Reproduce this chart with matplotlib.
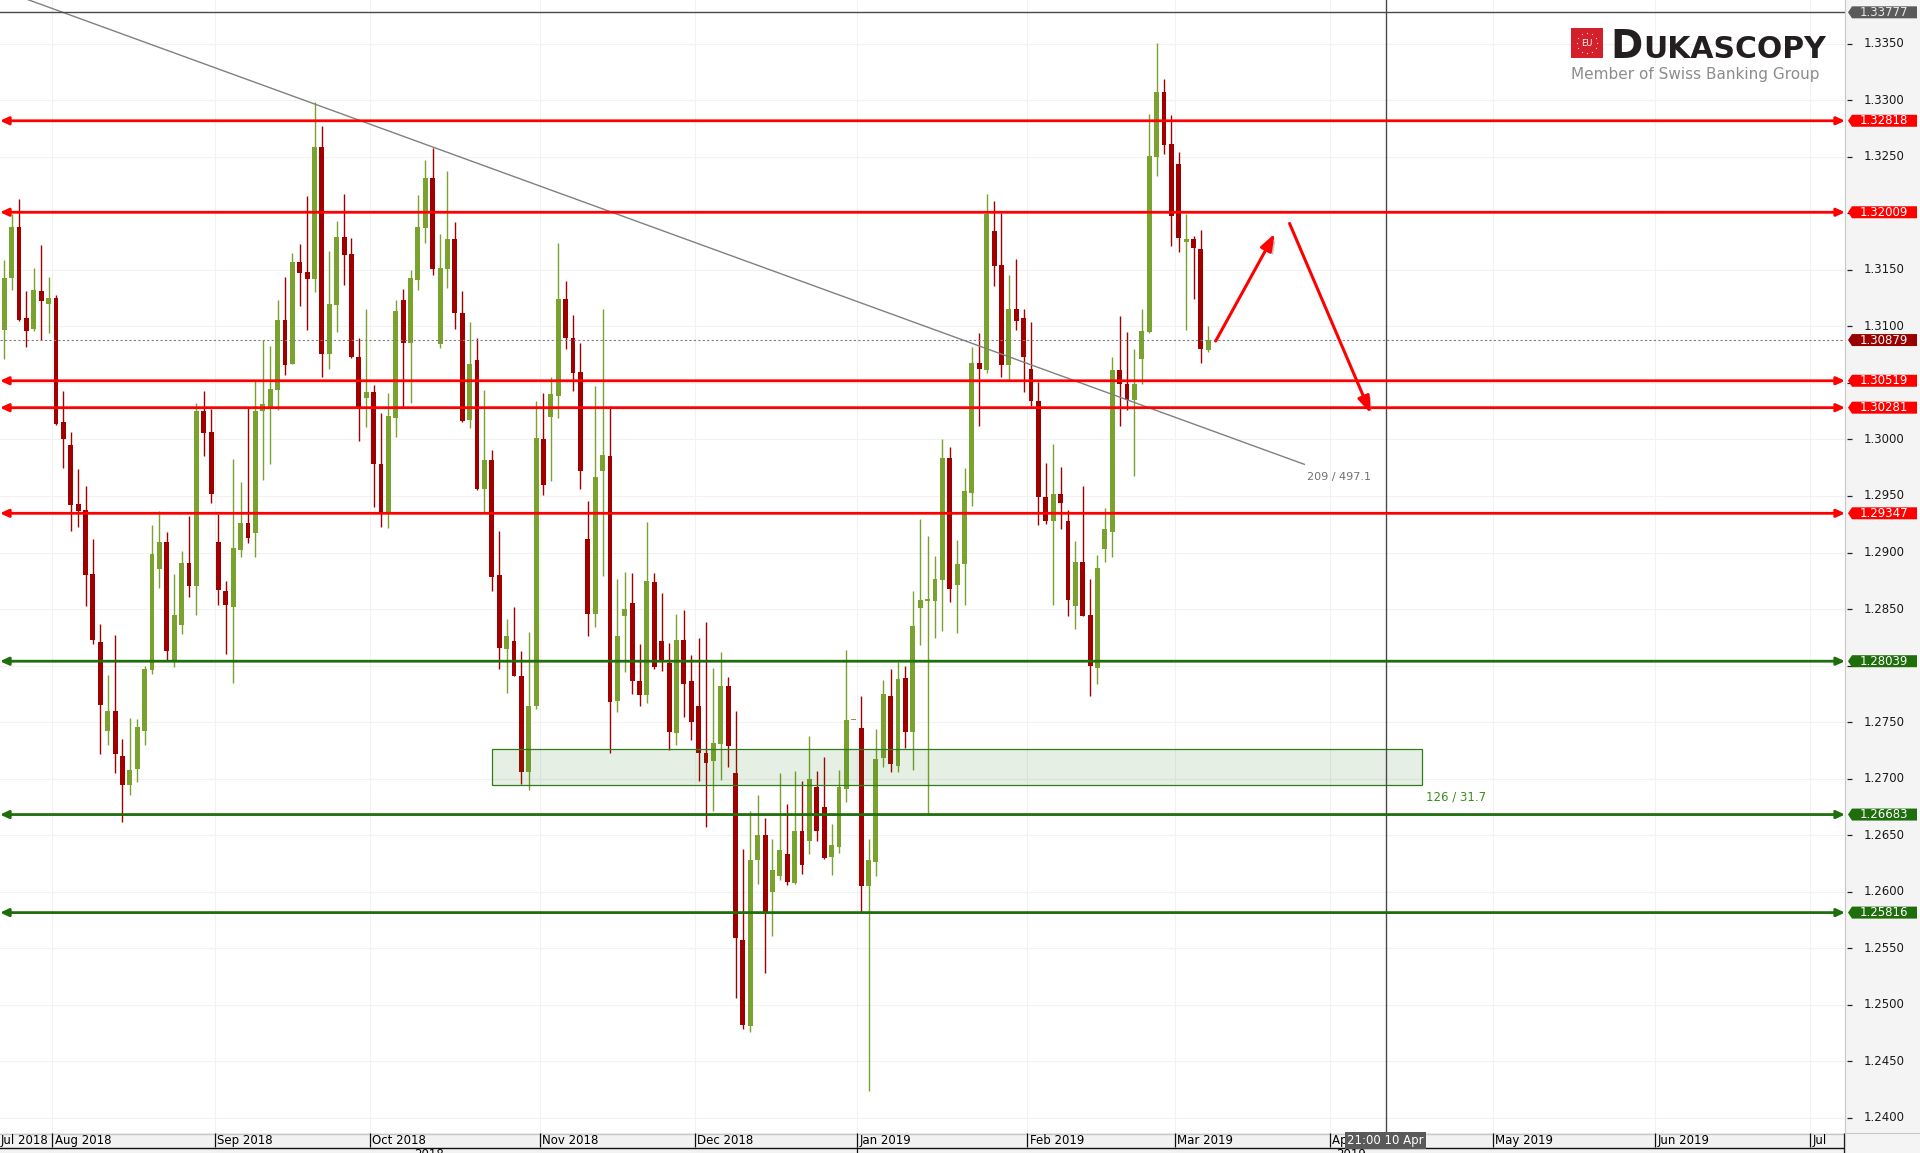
import numpy as np
import pandas as pd
import matplotlib
matplotlib.use('Agg')
import matplotlib.pyplot as plt
from matplotlib.patches import Polygon, Rectangle, FancyArrowPatch
import matplotlib.patheffects as pe

# GBP/USD daily candles, 23 Jul 2018 - 7 Mar 2019 (business days)
dates = pd.bdate_range('2018-07-23', '2019-03-07')

opens = [
    1.3097, 1.3143, 1.3188, 1.3107, 1.3098, 1.3131, 1.3120, 1.3125, 1.3015, 1.2995,
    1.2943, 1.2938, 1.2881, 1.2821, 1.2742, 1.2760, 1.2720, 1.2694, 1.2709, 1.2742,
    1.2796, 1.2885, 1.2909, 1.2804, 1.2836, 1.2891, 1.2870, 1.3025, 1.3007, 1.2909,
    1.2866, 1.2852, 1.2902, 1.2926, 1.2917, 1.3025, 1.3029, 1.3044, 1.3106, 1.3067,
    1.3157, 1.3148, 1.3142, 1.3259, 1.3076, 1.3119, 1.3179, 1.3164, 1.3073, 1.3037,
    1.3042, 1.2978, 1.2936, 1.3019, 1.3123, 1.3085, 1.3141, 1.3187, 1.3231, 1.3084,
    1.3151, 1.3177, 1.3112, 1.3017, 1.3070, 1.2956, 1.2982, 1.2880, 1.2815, 1.2822,
    1.2791, 1.2706, 1.2764, 1.3000, 1.3020, 1.3038, 1.3124, 1.3090, 1.3060, 1.2912,
    1.2846, 1.2972, 1.2985, 1.2769, 1.2844, 1.2855, 1.2786, 1.2774, 1.2874, 1.2822,
    1.2802, 1.2740, 1.2823, 1.2786, 1.2764, 1.2723, 1.2716, 1.2731, 1.2782, 1.2705,
    1.2557, 1.2481, 1.2628, 1.2650, 1.2600, 1.2614, 1.2633, 1.2608, 1.2654, 1.2645,
    1.2693, 1.2675, 1.2631, 1.2640, 1.2691, 1.2752, 1.2745, 1.2605, 1.2626, 1.2718,
    1.2773, 1.2711, 1.2789, 1.2741, 1.2851, 1.2857, 1.2857, 1.2876, 1.2984, 1.2871,
    1.2890, 1.2953, 1.3068, 1.3061, 1.3184, 1.3154, 1.3066, 1.3115, 1.3107, 1.3062,
    1.3034, 1.2949, 1.2928, 1.2952, 1.2928, 1.2853, 1.2892, 1.2845, 1.2798, 1.2903,
    1.2918, 1.3061, 1.3049, 1.3035, 1.3071, 1.3095, 1.3250, 1.3307, 1.3261, 1.3244,
    1.3175, 1.3177, 1.3168, 1.3079]

highs = [
    1.3159, 1.3199, 1.3213, 1.3131, 1.3152, 1.3172, 1.3144, 1.3128, 1.3043, 1.3007,
    1.2974, 1.2959, 1.2912, 1.2837, 1.2792, 1.2827, 1.2735, 1.2754, 1.2753, 1.2800,
    1.2924, 1.2937, 1.2918, 1.2881, 1.2901, 1.2932, 1.3032, 1.3043, 1.3027, 1.2934,
    1.2875, 1.2983, 1.2962, 1.3028, 1.3052, 1.3088, 1.3083, 1.3123, 1.3144, 1.3165,
    1.3173, 1.3215, 1.3298, 1.3277, 1.3167, 1.3193, 1.3217, 1.3178, 1.3090, 1.3115,
    1.3048, 1.3023, 1.3041, 1.3123, 1.3133, 1.3150, 1.3216, 1.3247, 1.3258, 1.3182,
    1.3237, 1.3192, 1.3131, 1.3104, 1.3090, 1.3044, 1.2991, 1.2919, 1.2841, 1.2852,
    1.2813, 1.2830, 1.3034, 1.3041, 1.3055, 1.3174, 1.3140, 1.3110, 1.3085, 1.2946,
    1.3047, 1.3115, 1.3030, 1.2877, 1.2883, 1.2882, 1.2819, 1.2927, 1.2882, 1.2864,
    1.2820, 1.2846, 1.2849, 1.2809, 1.2824, 1.2839, 1.2798, 1.2812, 1.2790, 1.2760,
    1.2638, 1.2671, 1.2686, 1.2665, 1.2647, 1.2705, 1.2678, 1.2707, 1.2698, 1.2738,
    1.2707, 1.2719, 1.2660, 1.2708, 1.2814, 1.2752, 1.2773, 1.2647, 1.2744, 1.2787,
    1.2797, 1.2803, 1.2800, 1.2866, 1.2930, 1.2915, 1.2897, 1.3000, 1.2993, 1.2911,
    1.2975, 1.3082, 1.3094, 1.3217, 1.3211, 1.3200, 1.3145, 1.3160, 1.3115, 1.3104,
    1.3051, 1.2979, 1.2996, 1.2976, 1.2938, 1.2910, 1.2959, 1.2877, 1.2898, 1.2939,
    1.3073, 1.3109, 1.3095, 1.3080, 1.3115, 1.3288, 1.3351, 1.3319, 1.3287, 1.3254,
    1.3199, 1.3180, 1.3185, 1.3100]

lows = [
    1.3071, 1.3132, 1.3105, 1.3082, 1.3096, 1.3088, 1.3094, 1.3013, 1.2975, 1.2919,
    1.2923, 1.2853, 1.2819, 1.2722, 1.2730, 1.2705, 1.2662, 1.2686, 1.2697, 1.2730,
    1.2793, 1.2869, 1.2804, 1.2799, 1.2828, 1.2861, 1.2845, 1.2985, 1.2944, 1.2854,
    1.2810, 1.2785, 1.2896, 1.2908, 1.2896, 1.2964, 1.2978, 1.3026, 1.3057, 1.3067,
    1.3118, 1.3097, 1.3130, 1.3055, 1.3062, 1.3095, 1.3137, 1.3072, 1.2999, 1.3011,
    1.2940, 1.2923, 1.2922, 1.3002, 1.3029, 1.3032, 1.3132, 1.3174, 1.3145, 1.3081,
    1.3134, 1.3098, 1.3015, 1.3010, 1.2955, 1.2936, 1.2866, 1.2797, 1.2776, 1.2791,
    1.2695, 1.2690, 1.2762, 1.2951, 1.2963, 1.3019, 1.3080, 1.3043, 1.2956, 1.2826,
    1.2834, 1.2879, 1.2723, 1.2759, 1.2794, 1.2775, 1.2764, 1.2767, 1.2797, 1.2795,
    1.2725, 1.2730, 1.2755, 1.2734, 1.2698, 1.2657, 1.2671, 1.2699, 1.2710, 1.2506,
    1.2479, 1.2476, 1.2607, 1.2528, 1.2561, 1.2610, 1.2606, 1.2607, 1.2616, 1.2633,
    1.2645, 1.2629, 1.2615, 1.2634, 1.2679, 1.2752, 1.2582, 1.2424, 1.2614, 1.2710,
    1.2706, 1.2706, 1.2727, 1.2708, 1.2818, 1.2669, 1.2824, 1.2831, 1.2856, 1.2829,
    1.2854, 1.2941, 1.3012, 1.3059, 1.3136, 1.3055, 1.3053, 1.3097, 1.3042, 1.3030,
    1.2924, 1.2925, 1.2854, 1.2921, 1.2844, 1.2832, 1.2844, 1.2773, 1.2784, 1.2892,
    1.2896, 1.3012, 1.3026, 1.2968, 1.3049, 1.3094, 1.3233, 1.3252, 1.3171, 1.3166,
    1.3097, 1.3124, 1.3068, 1.3077]

closes = [
    1.3143, 1.3188, 1.3106, 1.3096, 1.3132, 1.3122, 1.3125, 1.3014, 1.3000, 1.2942,
    1.2937, 1.2880, 1.2823, 1.2765, 1.2760, 1.2722, 1.2694, 1.2708, 1.2746, 1.2797,
    1.2899, 1.2909, 1.2813, 1.2845, 1.2891, 1.2870, 1.3025, 1.3006, 1.2952, 1.2867,
    1.2854, 1.2904, 1.2926, 1.2913, 1.3025, 1.3031, 1.3045, 1.3106, 1.3066, 1.3157,
    1.3147, 1.3142, 1.3259, 1.3076, 1.3120, 1.3179, 1.3163, 1.3073, 1.3029, 1.3042,
    1.2978, 1.2935, 1.3021, 1.3114, 1.3085, 1.3143, 1.3188, 1.3231, 1.3151, 1.3152,
    1.3177, 1.3112, 1.3016, 1.3067, 1.2956, 1.2982, 1.2878, 1.2816, 1.2826, 1.2791,
    1.2706, 1.2764, 1.3001, 1.2960, 1.3040, 1.3124, 1.3090, 1.3059, 1.2972, 1.2846,
    1.2967, 1.2986, 1.2768, 1.2826, 1.2850, 1.2786, 1.2774, 1.2875, 1.2799, 1.2805,
    1.2741, 1.2823, 1.2784, 1.2750, 1.2723, 1.2714, 1.2732, 1.2782, 1.2729, 1.2559,
    1.2482, 1.2628, 1.2650, 1.2582, 1.2619, 1.2637, 1.2609, 1.2654, 1.2624, 1.2700,
    1.2654, 1.2630, 1.2641, 1.2693, 1.2752, 1.2752, 1.2605, 1.2628, 1.2717, 1.2775,
    1.2713, 1.2788, 1.2741, 1.2835, 1.2858, 1.2859, 1.2877, 1.2984, 1.2868, 1.2890,
    1.2954, 1.3068, 1.3062, 1.3199, 1.3153, 1.3066, 1.3115, 1.3105, 1.3073, 1.3034,
    1.2949, 1.2928, 1.2952, 1.2944, 1.2858, 1.2892, 1.2844, 1.2800, 1.2886, 1.2921,
    1.3061, 1.3049, 1.3035, 1.3049, 1.3096, 1.3251, 1.3307, 1.3260, 1.3198, 1.3178,
    1.3177, 1.3169, 1.3080, 1.30879]

# horizontal levels
red_levels = [1.32818, 1.32009, 1.30519, 1.30281, 1.29347]
green_levels = [1.28039, 1.26683, 1.25816]
top_level = 1.33777

# falling trend line (209 bars / 497.1 pips)
trend_dates = ['2018-06-06', '2019-03-26']
trend_prices = [1.3475, 1.2978]
trend_label = '209 / 497.1'

# support zone (126 bars / 31.7 pips)
zone_dates = ['2018-10-23', '2019-04-17']
zone_prices = [1.26944, 1.27259]
zone_label = '126 / 31.7'

# forecast arrows
up_dates = ['2019-03-08', '2019-03-20']
up_prices = [1.3087, 1.3182]
down_dates = ['2019-03-22', '2019-04-08']
down_prices = [1.3191, 1.3023]

cursor_date = '2019-04-10'
cursor_label = '21:00 10 Apr'

y_ticks = np.round(np.arange(1.2400, 1.33501, 0.005), 4)

# colours
C_UP = '#79a22e'
C_DN = '#a00000'
C_RED = '#ff0000'
C_GREEN = '#1f6e0c'

W, H = 1920, 1153
timeline = pd.bdate_range('2018-06-01', '2019-07-31')
def pos(d):
    return timeline.get_indexer(pd.to_datetime(d))

x = pos(dates)
xlim = (x[0] - 0.58, x[0] + 249.2)
ylim = (1.23867, 1.33886)

fig = plt.figure(figsize=(W / 100, H / 100), dpi=100)
fig.patch.set_facecolor('white')
ax = fig.add_axes([0, 20 / H, 1845 / W, 1133 / H])
ax.set_xlim(xlim)
ax.set_ylim(ylim)
ax.axis('off')

# month boundaries
months = pd.date_range('2018-07-01', '2019-07-01', freq='MS')
month_pos = []
for m in months:
    p = timeline.get_loc(timeline[timeline >= m][0]) - 0.5
    if m.dayofweek == 5:
        p -= 1
    month_pos.append(p)

for t in y_ticks:
    ax.axhline(t, color='#f2f2f2', lw=0.8, zorder=0)
for p in month_pos:
    ax.axvline(p, color='#f2f2f2', lw=0.8, zorder=0)

# candles
o, h, l, c = map(np.array, (opens, highs, lows, closes))
col = np.where(c >= o, C_UP, C_DN)
ax.vlines(x, l, h, colors=col, lw=1.0, zorder=2)
ax.bar(x, np.maximum(np.abs(c - o), 0.00009), bottom=np.minimum(o, c),
       width=0.66, color=col, linewidth=0, zorder=3)

# support zone
zx = pos(zone_dates)
ax.add_patch(Rectangle((zx[0], zone_prices[0]), zx[1] - zx[0], zone_prices[1] - zone_prices[0],
                       facecolor=(0.18, 0.49, 0.10, 0.12), edgecolor='#2e7d1a', lw=0.9, zorder=4))
ax.annotate(zone_label, xy=(zx[1], zone_prices[0]), xytext=(4, -12), textcoords='offset pixels',
            color='#3c8c1e', fontsize=8.5, ha='left', va='center')

# trend line
tx = pos(trend_dates)
ax.plot(tx, trend_prices, color='#808080', lw=1.0, zorder=5)
ax.annotate(trend_label, xy=(tx[1], trend_prices[1]), xytext=(3, -13), textcoords='offset pixels',
            color='#707070', fontsize=8, ha='left', va='center')

# price lines
ax.axhline(top_level, color='#4a4a4a', lw=1.0, zorder=5)
ax.axhline(c[-1], color='#808080', lw=0.8, ls=(0, (2, 2)), zorder=5)
ax.axvline(pos([cursor_date])[0], color='#4a4a4a', lw=1.0, zorder=5)

for lv_list, lc in ((red_levels, C_RED), (green_levels, C_GREEN)):
    for lv in lv_list:
        ax.add_patch(FancyArrowPatch((0, lv), (1, lv), transform=ax.get_yaxis_transform(),
                                     arrowstyle='<|-|>,head_length=5,head_width=2.3',
                                     mutation_scale=1, color=lc, lw=2.0,
                                     shrinkA=0, shrinkB=0, zorder=6))

# forecast arrows
for ds, ps in ((up_dates, up_prices), (down_dates, down_prices)):
    px = pos(ds)
    ax.add_patch(FancyArrowPatch((px[0], ps[0]), (px[1], ps[1]),
                                 arrowstyle='-|>,head_length=10,head_width=3.6',
                                 mutation_scale=1, color=C_RED, lw=2.2,
                                 shrinkA=0, shrinkB=0, zorder=7,
                                 path_effects=[pe.SimplePatchShadow(offset=(2, -2), shadow_rgbFace='#888888', alpha=0.5),
                                               pe.Normal()]))
ax.set_xlim(xlim)
ax.set_ylim(ylim)

# right price panel
axr = fig.add_axes([1845 / W, 20 / H, 75 / W, 1133 / H])
axr.set_xlim(0, 75)
axr.set_ylim(ylim)
axr.set_facecolor('#f4f4f4')
for s in ('top', 'right', 'bottom'):
    axr.spines[s].set_visible(False)
axr.spines['left'].set_color('#c8c8c8')
axr.set_xticks([])
axr.set_yticks([])

tag_values = [top_level] + red_levels + green_levels + [c[-1]]
half = 6 * (ylim[1] - ylim[0]) / 1133
axr.hlines(y_ticks, 2, 7, color='#222222', lw=0.9)
for t in y_ticks:
    if min(abs(t - v) for v in tag_values) < 1.2 * half:
        continue  # covered by a level tag
    axr.text(19, t, f'{t:.4f}', fontsize=8.5, ha='left', va='center', color='#1a1a1a')

def tag(v, fc, tc='white'):
    axr.add_patch(Polygon([(3, v), (7, v + half), (72, v + half), (72, v - half), (7, v - half)],
                          closed=True, facecolor=fc, edgecolor='none', zorder=5))
    axr.text(38.5, v, f'{v:.5f}', color=tc, fontsize=8.5, ha='center', va='center', zorder=6)

tag(top_level, '#5a5a5a', '#e6e6e6')
for lv in red_levels:
    tag(lv, C_RED)
for lv in green_levels:
    tag(lv, C_GREEN)
tag(c[-1], '#990000')

# time axis band
axb = fig.add_axes([0, 0, 1845 / W, 20 / H])
axb.set_xlim(xlim)
axb.set_ylim(0, 20)
axb.set_facecolor('#f2f2f2')
for s in axb.spines.values():
    s.set_visible(False)
axb.set_xticks([])
axb.set_yticks([])
axb.axhline(19.5, color='#c8c8c8', lw=1)
axb.axhline(5.5, color='#111111', lw=1)
for m, p in zip(months, month_pos):
    lab = m.strftime('%b %Y')
    if p < xlim[0]:
        axb.text(xlim[0] + 0.1, 12.6, lab, fontsize=8.5, ha='left', va='center', clip_on=True)
        continue
    if p + 7 > xlim[1]:
        lab = m.strftime('%b')
    axb.vlines(p, 6, 20, color='#111111', lw=0.9)
    axb.text(p + 0.3, 12.6, lab, fontsize=8.5, ha='left', va='center', clip_on=True)
axb.vlines(xlim[1] - 0.1, 0, 20, color='#111111', lw=0.9)

jan = month_pos[6]
axb.vlines(jan, 0, 6, color='#111111', lw=0.9)
axb.text((xlim[0] + jan) / 2, 5, '2018', fontsize=8.5, ha='center', va='top', clip_on=True)
axb.text((jan + xlim[1]) / 2, 5, '2019', fontsize=8.5, ha='center', va='top', clip_on=True)
axb.text(pos([cursor_date])[0], 12.6, cursor_label, fontsize=8.5, color='white', ha='center',
         va='center', zorder=5, bbox=dict(boxstyle='square,pad=0.15', fc='#5a5a5a', ec='none'))

axc = fig.add_axes([1845 / W, 0, 75 / W, 20 / H])
axc.set_facecolor('#f4f4f4')
axc.set_xticks([])
axc.set_yticks([])
for s in ('right', 'bottom'):
    axc.spines[s].set_visible(False)
axc.spines['left'].set_color('#c8c8c8')
axc.spines['top'].set_color('#c8c8c8')

# logo
axl = fig.add_axes([1571 / W, 1 - 57.7 / H, 32 / W, 29.4 / H])
axl.set_xlim(-16, 16)
axl.set_ylim(-14.7, 14.7)
axl.axis('off')
axl.add_patch(Rectangle((-16, -14.7), 32, 29.4, color='#d4202a'))
ang = np.linspace(0, 2 * np.pi, 12, endpoint=False)
axl.scatter(10 * np.cos(ang), 10 * np.sin(ang), s=2, color='white', marker='*', linewidths=0)
axl.text(0, 0, 'EU', color='white', fontsize=6, ha='center', va='center')

d = fig.text(1610 / W, 1 - 58 / H, 'D', fontsize=28, fontweight='heavy', color='#231f20',
             ha='left', va='baseline')
ax.annotate('UKASCOPY', xy=(1, 0), xycoords=d, xytext=(1, 2), textcoords='offset pixels',
            fontsize=21.5, fontweight='heavy', color='#231f20', ha='left', va='bottom',
            annotation_clip=False)
fig.text(1571 / W, 1 - 75 / H, 'Member of Swiss Banking Group', fontsize=11, color='#8c8c8c',
         ha='left', va='center')

fig.savefig('out.png', dpi=100)
